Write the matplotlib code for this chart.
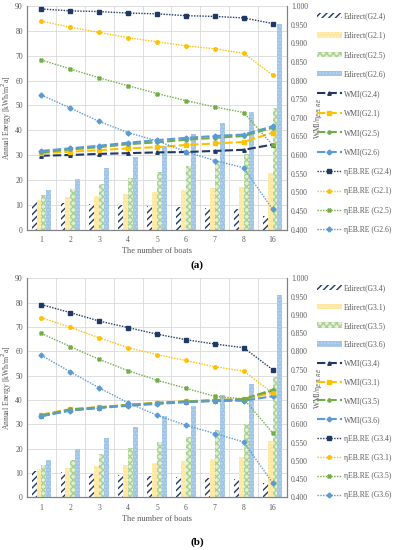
"""Annual energy bars with WMI / eta_EB,RE lines for two boat groups."""

import numpy as np
import matplotlib
matplotlib.use("Agg")
import matplotlib.pyplot as plt

plt.rcParams["font.family"] = ["Liberation Serif", "DejaVu Serif"]
plt.rcParams["hatch.linewidth"] = 1.0

boats = ["1", "2", "3", "4", "5", "6", "7", "8", "16"]

# panel (a) - G2 cases
groups_a = ["G2.4", "G2.1", "G2.5", "G2.6"]
edirect_a = [
    [11.1, 10.7, 10.4, 9.9, 9.5, 9.2, 8.7, 8.4, 5.3],
    [12.0, 13.0, 13.6, 14.4, 15.1, 16.0, 16.7, 17.1, 22.9],
    [13.7, 16.3, 18.4, 20.8, 23.2, 25.6, 27.6, 30.6, 49.1],
    [16.0, 20.4, 24.8, 29.2, 33.5, 38.5, 42.7, 47.2, 82.9],
]
wmi_a = [
    [0.598, 0.600, 0.603, 0.605, 0.607, 0.608, 0.611, 0.614, 0.628],
    [0.605, 0.609, 0.613, 0.618, 0.621, 0.627, 0.631, 0.635, 0.660],
    [0.607, 0.615, 0.621, 0.629, 0.634, 0.641, 0.646, 0.651, 0.673],
    [0.611, 0.618, 0.625, 0.633, 0.640, 0.646, 0.651, 0.655, 0.677],
]
eta_a = [
    [0.992, 0.987, 0.985, 0.981, 0.979, 0.974, 0.972, 0.968, 0.953],
    [0.959, 0.943, 0.929, 0.915, 0.904, 0.893, 0.885, 0.873, 0.815],
    [0.855, 0.831, 0.807, 0.786, 0.765, 0.746, 0.729, 0.714, 0.627],
    [0.761, 0.726, 0.690, 0.660, 0.638, 0.609, 0.585, 0.566, 0.454],
]

# panel (b) - G3 cases
groups_b = ["G3.4", "G3.1", "G3.5", "G3.6"]
edirect_b = [
    [10.7, 10.3, 9.6, 9.1, 8.7, 8.5, 8.0, 7.7, 5.8],
    [11.7, 12.0, 12.8, 13.5, 14.0, 15.1, 16.0, 16.8, 23.2],
    [13.3, 15.5, 17.9, 20.2, 22.6, 25.0, 27.8, 30.0, 49.3],
    [15.4, 19.9, 24.3, 29.1, 33.6, 37.7, 42.2, 46.8, 83.0],
]
wmi_b = [
    [0.624, 0.639, 0.646, 0.653, 0.658, 0.662, 0.665, 0.668, 0.693],
    [0.627, 0.642, 0.647, 0.654, 0.659, 0.663, 0.667, 0.669, 0.686],
    [0.625, 0.641, 0.647, 0.653, 0.659, 0.663, 0.666, 0.669, 0.695],
    [0.622, 0.638, 0.645, 0.651, 0.656, 0.661, 0.664, 0.665, 0.677],
]
eta_b = [
    [0.928, 0.906, 0.883, 0.865, 0.847, 0.832, 0.820, 0.810, 0.750],
    [0.892, 0.866, 0.837, 0.810, 0.791, 0.775, 0.758, 0.746, 0.686],
    [0.849, 0.813, 0.778, 0.747, 0.721, 0.699, 0.677, 0.670, 0.577],
    [0.789, 0.744, 0.700, 0.659, 0.625, 0.598, 0.575, 0.552, 0.440],
]

line_colors = ["#1f3864", "#ffc000", "#70ad47", "#5b9bd5"]
bar_styles = [
    dict(facecolor="white", edgecolor="#1f3864", hatch="/////"),
    dict(facecolor="#ffe699", edgecolor="#fff2cc", hatch="....."),
    dict(facecolor="#e2efda", edgecolor="#a9d18e", hatch="xxxxx"),
    dict(facecolor="#9dc3e6", edgecolor="#bdd7ee", hatch="....."),
]
wmi_markers = ["^", "s", "P", "D"]
eta_markers = ["s", "o", "X", "D"]

TXT = "#595959"
FS = 5.5


def draw_panel(fig, rect, groups, edirect, wmi, eta, legend_top, label_spacing, tag, tag_y):
    ax = fig.add_axes(rect)
    ax2 = ax.twinx()
    x = np.arange(len(boats))
    w = 0.17
    handles = []
    for i, vals in enumerate(edirect):
        b = ax.bar(x + (i - 1.5) * w, vals, w, linewidth=0, zorder=2,
                   label=f"Edirect({groups[i]})", **bar_styles[i])
        handles.append(b)
    for i, vals in enumerate(wmi):
        (l,) = ax2.plot(x, vals, linestyle=(0, (4, 1.5)), linewidth=1.5,
                        color=line_colors[i], marker=wmi_markers[i], markersize=2.5,
                        label=f"WMI({groups[i]})")
        handles.append(l)
    for i, vals in enumerate(eta):
        (l,) = ax2.plot(x, vals, linestyle=(0, (1, 1)), linewidth=1.0,
                        color=line_colors[i], marker=eta_markers[i], markersize=2.5,
                        label=f"ηEB.RE ({groups[i]})")
        handles.append(l)

    ax.set_xlim(-0.5, len(boats) - 0.5)
    ax.set_ylim(0, 90)
    ax.set_yticks(range(0, 91, 10))
    ax2.set_ylim(0.4, 1.0)
    ticks = np.arange(0.4, 1.0001, 0.05)
    ax2.set_yticks(ticks)
    ax2.set_yticklabels([f"{v:.3f}" for v in ticks])
    ax.set_xticks(x)
    ax.set_xticklabels(boats)
    ax.set_xticks(np.arange(-0.5, len(boats), 1), minor=True)
    ax.grid(True, axis="y", color="#d9d9d9", linewidth=0.6, zorder=0)
    ax.grid(True, axis="x", which="minor", color="#d9d9d9", linewidth=0.6, zorder=0)
    ax.set_axisbelow(True)
    for a in (ax, ax2):
        a.tick_params(labelsize=FS, colors=TXT, length=0, pad=3)
        a.tick_params(axis="x", which="minor", length=0)
        a.spines["top"].set_visible(False)
        for s in ("left", "right", "bottom"):
            a.spines[s].set_color("#808080")
            a.spines[s].set_linewidth(0.8)
    ax.tick_params(axis="x", pad=5)
    ax.set_xlabel("The number of boats", fontsize=FS + 0.5, color=TXT, labelpad=2)
    ax.set_ylabel("Annual Energy [kWh/m$^2$a]", fontsize=FS, color=TXT)
    ax.yaxis.set_label_coords(-0.05, 0.5)
    ax2.set_ylabel("WMI/η$_{EB,RE}$", fontsize=FS, color=TXT, labelpad=3)

    fig.legend(handles=handles, loc="upper left", bbox_to_anchor=(0.805, legend_top),
               frameon=False, fontsize=FS, labelcolor=TXT, handlelength=3.2,
               handletextpad=0.3, labelspacing=label_spacing, borderpad=0,
               borderaxespad=0)
    fig.text(0.5, tag_y, tag, ha="center", va="center", fontsize=8, fontweight="bold")


fig = plt.figure(figsize=(3.94, 5.5), dpi=100)
draw_panel(fig, [0.0685, 0.5827, 0.66, 0.4064], groups_a, edirect_a, wmi_a, eta_a,
           0.978, 1.5, "(a)", 1 - 265 / 550)
draw_panel(fig, [0.0685, 0.0955, 0.66, 0.3985], groups_b, edirect_b, wmi_b, eta_b,
           1 - 284 / 550, 1.42, "(b)", 1 - 542 / 550)

fig.savefig("out.png", dpi=100)
plt.close(fig)
print("Saved: out.png")
